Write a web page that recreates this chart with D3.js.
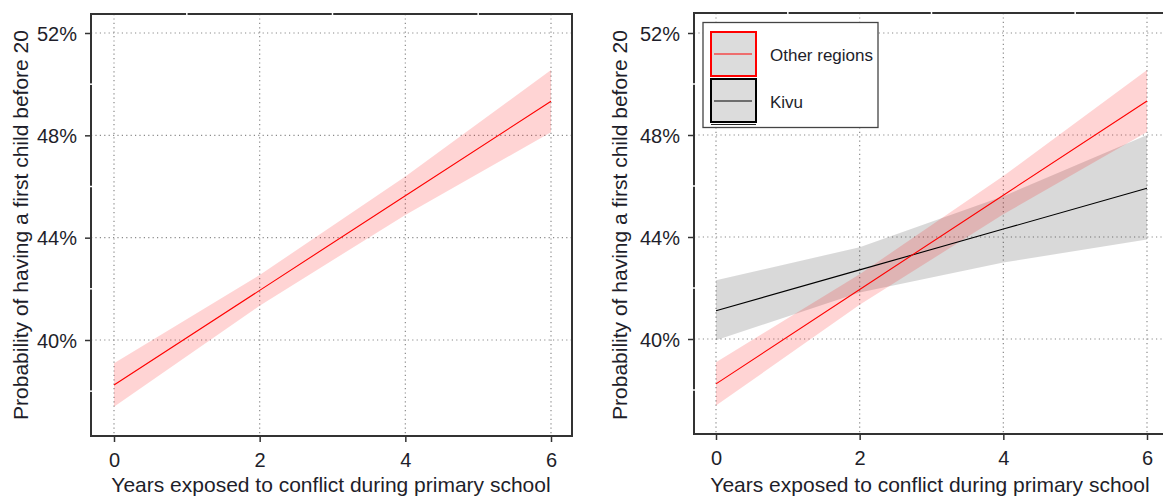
<!DOCTYPE html>
<html>
<head>
<meta charset="utf-8">
<script src="https://cdn.jsdelivr.net/npm/d3@7"></script>
<style>
  body { margin: 0; background: white; }
  text { font-family: Arial, "Liberation Sans", sans-serif; fill: #1e1e2a; }
</style>
</head>
<body>
<div id="container"></div>
<script>
let w = 1163;
let h = 496;

// data (probabilities)
let years = [0, 2, 4, 6];
let otherMean = [0.3824, 0.4194, 0.4564, 0.4933];
let otherLo   = [0.3739, 0.4134, 0.4489, 0.4812];
let otherHi   = [0.3909, 0.4254, 0.4639, 0.5055];
let kivuMean  = [0.4111, 0.4271, 0.4431, 0.4591];
let kivuLo    = [0.3995, 0.4182, 0.4300, 0.4390];
let kivuHi    = [0.4230, 0.4360, 0.4560, 0.4800];

let xTicks = [0, 2, 4, 6];
let xMinor = [1, 3, 5];
let yTicks = [0.40, 0.44, 0.48, 0.52];
let yMinor = [0.38, 0.42, 0.46, 0.50];
let legendLabels = ["Other regions", "Kivu"];

let xTitle = "Years exposed to conflict during primary school";
let yTitle = "Probability of having a first child before 20";

let viz = d3.select("#container")
  .append("svg")
    .attr("width", w)
    .attr("height", h)
    .style("background-color", "white");

let series = [
  {name: "other", mean: otherMean, lo: otherLo, hi: otherHi, line: "#ff0000", band: "rgba(255,0,0,0.17)"},
  {name: "kivu", mean: kivuMean, lo: kivuLo, hi: kivuHi, line: "#000000", band: "rgba(0,0,0,0.15)"}
];

function drawPanel(p, list, withLegend) {
  let xScale = d3.scaleLinear().domain([0, 6]).range([p.x0, p.x6]);
  let yScale = d3.scaleLinear().domain([0.40, 0.52]).range([p.y40, 33]);
  let g = viz.append("g");

  // dotted grid
  g.selectAll(".vgrid").data(xTicks).enter().append("line")
    .attr("x1", d => xScale(d)).attr("x2", d => xScale(d))
    .attr("y1", p.top).attr("y2", p.bottom)
    .attr("stroke", "#8a8a8a").attr("stroke-width", 1.2)
    .attr("stroke-dasharray", "1.2,3.2");
  g.selectAll(".hgrid").data(yTicks).enter().append("line")
    .attr("x1", p.left).attr("x2", p.right)
    .attr("y1", d => yScale(d)).attr("y2", d => yScale(d))
    .attr("stroke", "#8a8a8a").attr("stroke-width", 1.2)
    .attr("stroke-dasharray", "1.2,3.2");

  // bands then lines
  list.forEach(s => {
    let area = d3.area()
      .x((d, i) => xScale(years[i]))
      .y0((d, i) => yScale(s.lo[i]))
      .y1((d, i) => yScale(s.hi[i]));
    g.append("path").datum(years).attr("d", area).attr("fill", s.band);
  });
  list.forEach(s => {
    let line = d3.line()
      .x((d, i) => xScale(years[i]))
      .y((d, i) => yScale(s.mean[i]));
    g.append("path").datum(years).attr("d", line)
      .attr("fill", "none").attr("stroke", s.line).attr("stroke-width", 1.1);
  });

  // frame
  g.append("rect")
    .attr("x", p.left).attr("y", p.top)
    .attr("width", p.right - p.left).attr("height", p.bottom - p.top)
    .attr("fill", "none").attr("stroke", "#333").attr("stroke-width", 2);

  // white minor marks across the frame
  g.selectAll(".xminor").data(xMinor).enter().append("line")
    .attr("x1", d => xScale(d)).attr("x2", d => xScale(d))
    .attr("y1", p.top - 2).attr("y2", p.top + 2)
    .attr("stroke", "white").attr("stroke-width", 1.5);
  g.selectAll(".yminor").data(yMinor).enter().append("line")
    .attr("x1", p.left - 2).attr("x2", p.left + 2)
    .attr("y1", d => yScale(d)).attr("y2", d => yScale(d))
    .attr("stroke", "white").attr("stroke-width", 1.5);

  // axes
  let xAxis = d3.axisBottom(xScale).tickValues(xTicks).tickSize(6).tickPadding(11)
    .tickFormat(d3.format("d"));
  let ga = g.append("g").attr("transform", "translate(0," + p.bottom + ")").call(xAxis);
  ga.select(".domain").remove();
  ga.selectAll("line").attr("stroke", "#333").attr("stroke-width", 1.5);
  ga.selectAll("text").style("font-size", "20px").attr("fill", "#1e1e2a")
    .style("font-family", "Arial, 'Liberation Sans', sans-serif");

  let yAxis = d3.axisLeft(yScale).tickValues(yTicks).tickSize(6).tickPadding(8)
    .tickFormat(d3.format(".0%"));
  let gy = g.append("g").attr("transform", "translate(" + p.left + ",0)").call(yAxis);
  gy.select(".domain").remove();
  gy.selectAll("line").attr("stroke", "#333").attr("stroke-width", 1.5);
  gy.selectAll("text").style("font-size", "20px").attr("fill", "#1e1e2a")
    .attr("dy", "0.36em")
    .style("font-family", "Arial, 'Liberation Sans', sans-serif");

  // titles
  g.append("text")
    .attr("x", p.xTitleX).attr("y", 492)
    .attr("text-anchor", "middle")
    .style("font-size", "21px")
    .text(xTitle);
  g.append("text")
    .attr("transform", "translate(" + p.yTitleX + "," + 225 + ") rotate(-90)")
    .attr("text-anchor", "middle")
    .style("font-size", "21px")
    .text(yTitle);

  if (withLegend) {
    let lg = g.append("g");
    lg.append("rect").attr("x", 703).attr("y", 22.5).attr("width", 175).attr("height", 105)
      .attr("fill", "white").attr("stroke", "#444").attr("stroke-width", 1.3);
    let keys = [series[0], series[1]];
    keys.forEach((s, i) => {
      let yy = 32 + i * 47;
      lg.append("rect").attr("x", 711).attr("y", yy).attr("width", 45).attr("height", i == 0 ? 44 : 43)
        .attr("fill", "#dcdcdc").attr("stroke", s.line).attr("stroke-width", 2);
      lg.append("line").attr("x1", 714).attr("x2", 752)
        .attr("y1", yy + 22).attr("y2", yy + 22)
        .attr("stroke", s.line).attr("stroke-width", 1.1);
      lg.append("text").attr("x", 770).attr("y", yy + 23).attr("dy", "0.36em")
        .style("font-size", "17px").text(legendLabels[i]);
    });
    lg.append("line").attr("x1", 711).attr("x2", 756).attr("y1", 124.5).attr("y2", 124.5)
      .attr("stroke", "#222").attr("stroke-width", 1.2);
  }
}

drawPanel({left: 91, right: 572, top: 14, bottom: 436, x0: 114, x6: 551, y40: 340,
  xTitleX: 331, yTitleX: 28}, [series[0]], false);
drawPanel({left: 694, right: 1166, top: 13, bottom: 434, x0: 716, x6: 1147, y40: 339,
  xTitleX: 930, yTitleX: 627}, [series[1], series[0]], true);
</script>
</body>
</html>
